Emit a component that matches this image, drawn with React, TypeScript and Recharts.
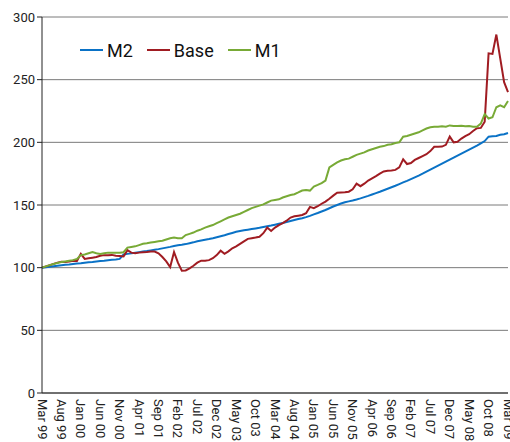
import { CartesianGrid, Line, LineChart, XAxis, YAxis } from 'recharts'

const MONTH_NAMES = ['Jan', 'Feb', 'Mar', 'Apr', 'May', 'Jun', 'Jul', 'Aug', 'Sep', 'Oct', 'Nov', 'Dec']
const START_YEAR = 1999
const START_MONTH = 2 // March

const Y_TICKS = [0, 50, 100, 150, 200, 250, 300]

// monthly index values, Mar 99 .. Mar 09
const M2 = [
  100, 100.4, 100.8, 101.2, 101.6, 102, 102.3, 102.6, 103, 103.3,
  103.6, 104, 104.3, 104.6, 105, 105.3, 105.6, 106, 106.3, 106.6,
  107, 110.5, 111, 111.4, 111.9, 112.4, 112.9, 113.3, 113.8, 114.3,
  114.8, 115.4, 116, 116.6, 117.3, 117.9, 118.3, 118.8, 119.5, 120.2,
  121, 121.6, 122.2, 122.8, 123.5, 124.3, 125.1, 125.9, 126.8, 127.7,
  128.6, 129.2, 129.8, 130.3, 130.8, 131.3, 131.8, 132.4, 133, 133.6,
  134.3, 135, 135.7, 136.4, 137.2, 138, 138.8, 139.5, 140.3, 141.3,
  142.5, 143.6, 144.8, 146, 147.4, 148.8, 150, 151.2, 152.2, 152.9,
  153.6, 154.4, 155.3, 156.3, 157.3, 158.4, 159.5, 160.6, 161.8, 163,
  164.2, 165.4, 166.7, 168, 169.3, 170.7, 172.1, 173.5, 175, 176.6,
  178.2, 179.8, 181.4, 183, 184.6, 186.2, 187.8, 189.4, 191, 192.6,
  194.2, 195.8, 197.4, 199.2, 201, 204.5, 204.8, 205, 206, 206.5,
  207.5,
]

const BASE = [
  100, 101, 102, 103, 104, 104.8, 104.5, 105, 105.5, 105.3,
  111, 107, 107.5, 108, 108.5, 109.5, 110, 110, 110.2, 109.5,
  109.3, 109, 114, 112, 111.5, 112, 112.3, 112.5, 112.8, 112.8,
  111.5, 108.5, 105, 100.5, 112.5, 104, 97.5, 97.8, 99.5, 101.5,
  104, 105.6, 105.6, 106, 107.5, 110, 113.5, 111, 113, 115.5,
  117, 119, 121, 123, 123.5, 124, 124.7, 127.5, 132, 129.3,
  132, 134, 135.5, 137.5, 140, 141, 141.5, 142, 143.4, 148.5,
  147.4, 149, 151, 152.7, 155, 157.5, 159.8, 160, 160.2, 160.6,
  162.5, 167, 165, 167, 169.5, 171.3, 173, 175, 176.8, 177.3,
  177.6, 178, 180, 186.4, 182.7, 183.5, 186, 187.5, 189, 190.5,
  193, 196.5, 196.5, 196.6, 198, 204.6, 200, 200.5, 203, 205,
  206.5, 209, 211.2, 211.5, 216.5, 271, 270.5, 286, 267, 248,
  240,
]

const M1 = [
  100, 101, 102, 103, 103.8, 104.5, 105, 105.5, 106, 107,
  110, 110.5, 111.5, 112.5, 111.5, 111, 111.5, 112, 112, 112,
  112, 112.3, 116, 116.5, 117, 118, 119, 119.4, 120, 120.5,
  121, 121.5, 122.5, 123.5, 124, 123.5, 123.4, 126, 127, 128,
  129.5, 130.5, 132, 133, 134, 135.5, 137, 138.5, 140, 141,
  142, 143, 144.5, 146, 147.5, 148.5, 149.5, 150.5, 152, 153.5,
  154, 154.5, 156, 157, 158, 158.6, 160, 161.5, 162, 161.5,
  164.7, 166, 167.5, 169.5, 180, 182, 184, 185.5, 186.5, 187,
  188.5, 190, 191, 192, 193.5, 194.5, 195.5, 196.5, 197, 198,
  198.5, 199.5, 200, 204.5, 205, 206, 207, 208, 209.5, 211,
  212, 212.5, 212.5, 212.8, 212.5, 213.5, 213, 213, 213.2, 212.8,
  213, 212.5, 212.5, 215, 222.5, 219, 220, 228, 229.5, 228,
  233,
]

const CATEGORIES = M2.map((_, i) => {
  const m = START_MONTH + i
  const yr = (START_YEAR + Math.floor(m / 12)) % 100
  return `${MONTH_NAMES[m % 12]} ${String(yr).padStart(2, '0')}`
})

const SERIES = [
  { key: 'm2', name: 'M2', color: '#0a72c6' },
  { key: 'base', name: 'Base', color: '#a01c22' },
  { key: 'm1', name: 'M1', color: '#78aa36' },
]

const chartData = CATEGORIES.map((month, i) => ({
  month,
  m2: M2[i],
  base: BASE[i],
  m1: M1[i],
}))

const FONT = 'Roboto, "DejaVu Sans", sans-serif'

function MonthTick({ x, y, payload }: any) {
  return (
    <text
      transform={`translate(${x},${y}) rotate(90)`}
      textAnchor="start"
      dominantBaseline="central"
      fontSize={13}
      fontFamily={FONT}
      fill="#222"
    >
      {payload.value}
    </text>
  )
}

function ChartLegend() {
  return (
    <div
      style={{
        position: 'absolute',
        top: 39,
        left: 80,
        height: 22,
        display: 'flex',
        alignItems: 'center',
        fontFamily: FONT,
        fontSize: 18,
        color: '#111',
      }}
    >
      {SERIES.map((s) => (
        <div key={s.key} style={{ display: 'flex', alignItems: 'center', marginRight: 14 }}>
          <span style={{ display: 'inline-block', width: 23, height: 2, background: s.color, marginRight: 4 }} />
          <span>{s.name}</span>
        </div>
      ))}
    </div>
  )
}

export default function App() {
  return (
    <div style={{ position: 'absolute', left: 0, top: 0, width: 510, height: 442, background: '#fff' }}>
      <LineChart width={510} height={442} data={chartData} margin={{ top: 17, right: 2, bottom: 0, left: 0 }}>
        <CartesianGrid vertical={false} stroke="#7a7a7a" />
        <XAxis
          dataKey="month"
          interval={4}
          tickLine={false}
          tickSize={0}
          tickMargin={6}
          height={49}
          stroke="#222"
          tick={<MonthTick />}
        />
        <YAxis
          domain={[0, 300]}
          ticks={Y_TICKS}
          width={42}
          tickSize={5}
          tickMargin={2}
          stroke="#222"
          tick={{ fontSize: 13, fontFamily: FONT, fill: '#222' }}
        />
        {SERIES.map((s) => (
          <Line
            key={s.key}
            type="linear"
            dataKey={s.key}
            name={s.name}
            stroke={s.color}
            strokeWidth={2}
            dot={false}
            isAnimationActive={false}
          />
        ))}
      </LineChart>
      <ChartLegend />
    </div>
  )
}
